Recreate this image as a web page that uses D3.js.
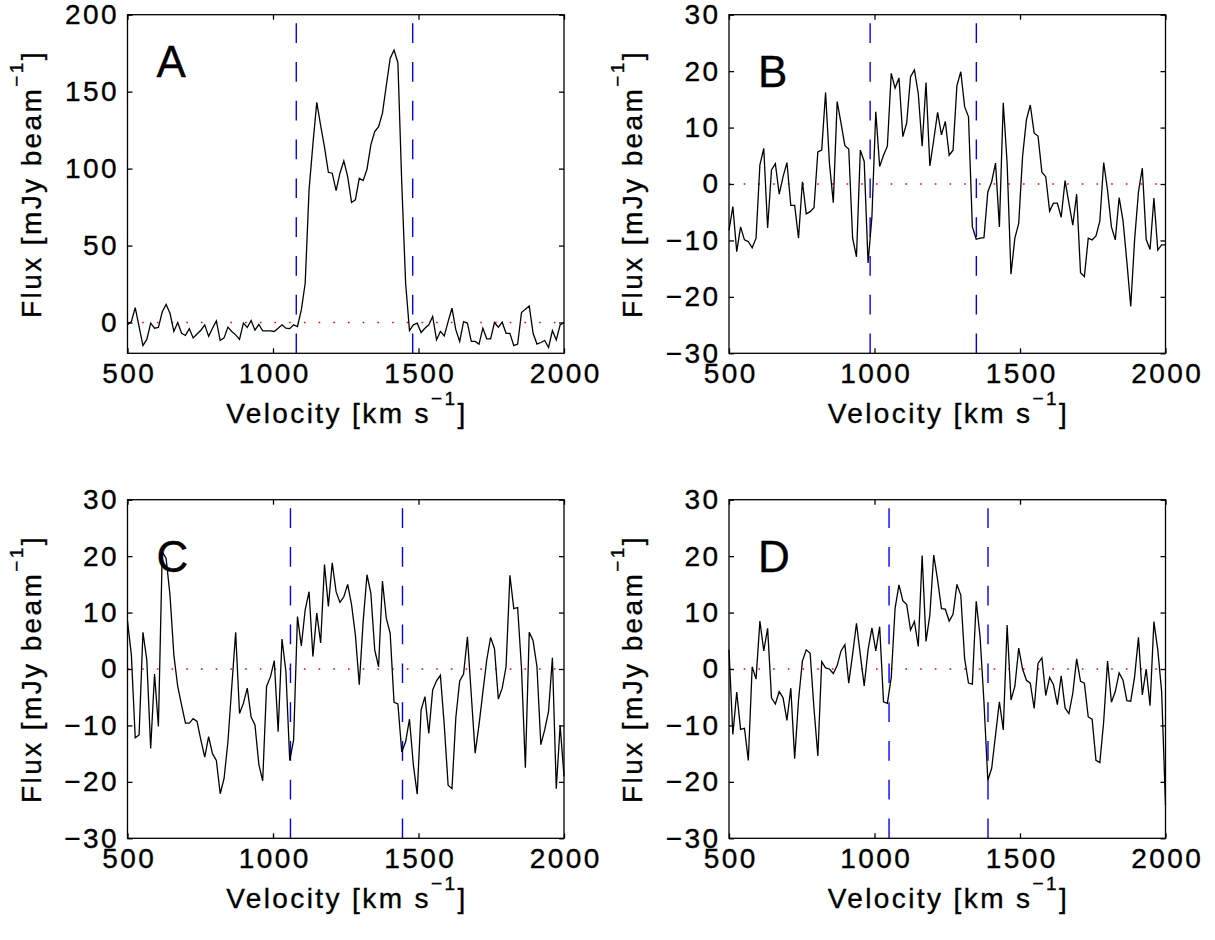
<!DOCTYPE html>
<html>
<head>
<meta charset="utf-8">
<script src="https://cdn.jsdelivr.net/npm/d3@7"></script>
<style>
  body { margin: 0; background: #fff; }
  svg text { font-family: Arial, "Liberation Sans", Helvetica, sans-serif; fill: #000; stroke: #000; stroke-width: 0.35px; }
</style>
</head>
<body>
<svg id="chart" width="1215" height="940"></svg>
<script>
// channel grid (km/s)
const V_START = 500, V_END = 2000, N_CHAN = 114;
const velocity = d3.range(N_CHAN).map(i => V_START + i * (V_END - V_START) / (N_CHAN - 1));

const velTicks = [500, 1000, 1500, 2000];
const fluxTicksA = [0, 50, 100, 150, 200];
const fluxTicksBCD = [-30, -20, -10, 0, 10, 20, 30];
const panelNames = ['A', 'B', 'C', 'D'];

// flux in mJy/beam, one value per channel
const fluxA = [-1.5, 0.6, 9.7, -2.6, -15, -11, -0.4, -3.7, -3.2, 7,
  11.7, 6, -5.8, 0, -7, -8.4, -4, -10, -7.5, -5,
  -1.5, -9, -3.7, 1, -11.7, -10, -3, -5.8, -8, -11,
  -0.4, -3.2, 1.3, -5, -1.3, -5.4, -5.4, -5.4, -5.8, -3.7,
  -1.5, -3.7, -4, -1.5, -2.6, 8.2, 25.5, 86, 116, 143,
  128, 114, 97.6, 97, 85.7, 97, 105, 94.8, 78, 79.7,
  93.7, 92.2, 99.6, 115.4, 124, 127.3, 136, 154, 171.6, 177,
  168.8, 90.5, 25.5, -5.2, -1.5, -0.4, -6.5, -3.7, -1.5, 3.9,
  -11.3, -5.8, -8.7, 0.6, 9.3, -4.8, -12.3, 0.6, -0.4, -12.3,
  -12.3, -14, -3.7, -10.6, -10.6, 0, -3, 0.2, -7, -7,
  -15, -14, 6.5, 8.7, 10.8, -7, -14, -13, -11.7, -16.2,
  -5.2, -11.3, -1.5, 0];

const fluxB = [-8.2, -4, -12, -7.6, -9.9, -10.2, -11.3, -9.6, 3.4, 6.3,
  -7.8, 2.5, 3.6, -1.8, 1.3, 3.8, -3.8, -3.8, -9.6, 0.4,
  -5.3, -4.9, -4.2, 5.7, 6, 16.2, 3.7, -3.3, 14.6, 10.8,
  6.8, 6.2, -9.6, -12.9, 6, 4, -14, -5.8, 12.8, 3.1,
  5.1, 6.7, 19.6, 17, 18.8, 8.4, 10.8, 19, 20.2, 16,
  6.7, 18, 3.2, 7.8, 12.7, 8.7, 11.1, 5.1, 6, 17.4,
  19.9, 13.7, 11.9, -7.6, -9.8, -9.6, -9.5, -1.4, 0.4, 3.7,
  -7.6, 14.4, 3.7, -16, -9.6, -7, 4.9, 11.4, 14, 9,
  8.5, 2.1, 1.3, -4.8, -3.4, -3.4, -5.9, 0.6, -3.4, -7.3,
  -1.8, -15.7, -16.4, -9.6, -9.9, -9.2, -6.6, 3.8, -1.1, -7.6,
  -9.9, -2.4, -6.5, -13.8, -21.7, -9.9, -1.4, 2.8, -9.8, -11.6,
  -2.5, -11.7, -10.8, -10.8];

const fluxC = [8.5, 2.5, -12.2, -11.7, 6.5, 1.6, -14.1, -0.9, -10.2, 20.8,
  19.6, 13.1, 2.5, -3.1, -6.4, -9.6, -9.6, -8.8, -9.3, -12.6,
  -15.6, -12, -15, -16.2, -22.1, -19.4, -12.9, -3.1, 6.5, -7.9,
  -6.1, -3.4, -8.5, -9.9, -16.9, -19.8, -3.1, -1.4, 1.5, -11.1,
  5.3, -0.4, -16.2, -12.6, 9.3, 4.1, 10.5, 13.7, 2.2, 9.9,
  4.6, 18.5, 11.1, 18.8, 13.7, 11.8, 12.8, 15, 11.4, 6,
  -2.8, 8.4, 16.7, 13.4, 3.4, 0.4, 15.6, 9, 6.3, -5.9,
  -6.2, -14.7, -12.9, -8.9, -17, -22.2, -7.3, -4.9, -11.4, -3.7,
  -2.1, -1.1, -9.9, -20.6, -21.2, -8.6, -2.1, -0.9, 5.7, -4.6,
  -14.9, -9.9, -4.1, 1.6, 5.6, 3.6, -5.3, -3.4, 0.4, 16.6,
  10.7, 10.9, 0.1, -17.5, 6.5, 5, 0.4, -13.4, -10.8, -7.5,
  2, -21.2, -10, -19];

const fluxD = [3.4, -11.6, -4.1, -10.7, -10.5, -16.2, 0.4, -1.8, 8.5, 3.2,
  7.2, -5.1, -6.2, -4, -5.1, -9.1, -3.4, -15.9, -5.5, 1.4,
  3.4, 2.8, -7, -15.4, 1.3, 0.2, 0, -0.8, 0.6, 3.2,
  4.3, -2.5, 2.6, 8.1, 2.5, -3, 3.4, 7.3, 3.2, 7.5,
  -5.8, -6.1, -1.5, 10.8, 14.9, 12.1, 11.4, 6.9, 8.4, 4,
  20.1, 4.9, 9.6, 20.2, 15.8, 10.7, 10.6, 8.5, 9.7, 15,
  13.1, 1.8, -2.5, -2.7, 12, 5.7, -5.8, -19.7, -17.6, -11.7,
  -5.8, -10.8, 7.8, -5.5, -3.1, 3.7, 0, -2, -2.5, -7,
  1, 2, -4.7, -1.5, -2.8, -6.3, -1.2, -6.9, -7.9, -4.3,
  1.8, -2.2, -2.5, -8.5, -8.9, -16.2, -16.6, -9.3, 1.4, -5.9,
  -4, -0.7, -2, -5.6, -5.7, -1.4, 5.6, -4.6, 0, -6.5,
  8.4, 3.4, -4, -24.1];

// velocity window markers (km/s)
const windowA = [1080, 1480];
const windowB = [985, 1350];
const windowC = [1060, 1445];
const windowD = [1050, 1390];

// label position in data coords
const letterVel = 600;
const letterFluxA = 170;
const letterFluxBCD = 20;

const panels = [
  {name: panelNames[0], flux: fluxA, win: windowA, yDomain: [-20, 200], yTicks: fluxTicksA, letterY: letterFluxA, left: 127.5, top: 14.7},
  {name: panelNames[1], flux: fluxB, win: windowB, yDomain: [-30, 30], yTicks: fluxTicksBCD, letterY: letterFluxBCD, left: 729, top: 14.7},
  {name: panelNames[2], flux: fluxC, win: windowC, yDomain: [-30, 30], yTicks: fluxTicksBCD, letterY: letterFluxBCD, left: 127.5, top: 499.7},
  {name: panelNames[3], flux: fluxD, win: windowD, yDomain: [-30, 30], yTicks: fluxTicksBCD, letterY: letterFluxBCD, left: 729, top: 499.7}
];

const W = 436.5, H = 338.6;
const FS = 28, LS = 2.4, TICK = 5;
const SUP = 19, RAISE = 18;

const svg = d3.select('#chart');
svg.append('rect').attr('width', 1215).attr('height', 940).attr('fill', '#fff');

function styleTicks(sel, dx) {
  sel.select('.domain').remove();
  sel.selectAll('line').attr('stroke', '#000').attr('stroke-width', 1.3);
  sel.selectAll('text')
    .attr('fill', '#000')
    .style('font-size', FS + 'px')
    .style('letter-spacing', LS + 'px')
    .attr('dx', dx);
}

function drawPanel(p) {
  const g = svg.append('g').attr('transform', `translate(${p.left},${p.top})`);
  const x = d3.scaleLinear().domain([V_START, V_END]).range([0, W]);
  const y = d3.scaleLinear().domain(p.yDomain).range([H, 0]);

  // zero level
  g.append('line')
    .attr('x1', x(V_START)).attr('x2', x(V_END))
    .attr('y1', y(0)).attr('y2', y(0))
    .attr('stroke', '#ff0000').attr('stroke-width', 1.6)
    .attr('stroke-dasharray', '1.6,13.1');

  // window markers, drawn from bottom to top
  p.win.forEach(v => {
    g.append('line')
      .attr('x1', x(v)).attr('x2', x(v))
      .attr('y1', y(p.yDomain[0])).attr('y2', y(p.yDomain[1]))
      .attr('stroke', '#0000ff').attr('stroke-width', 1.4)
      .attr('stroke-dasharray', '19.7,19.1');
  });

  // spectrum
  const line = d3.line().x(d => x(d[0])).y(d => y(d[1]));
  g.append('path')
    .datum(d3.zip(velocity, p.flux))
    .attr('d', line)
    .attr('fill', 'none')
    .attr('stroke', '#000')
    .attr('stroke-width', 1.3);

  // axes
  g.append('g').attr('transform', `translate(0,${H})`)
    .call(d3.axisBottom(x).tickValues(velTicks).tickFormat(d3.format('d'))
      .tickSizeInner(-TICK).tickSizeOuter(0).tickPadding(10))
    .call(s => styleTicks(s, LS / 2));
  g.append('g')
    .call(d3.axisTop(x).tickValues(velTicks).tickFormat('')
      .tickSizeInner(-TICK).tickSizeOuter(0))
    .call(s => styleTicks(s, 0));
  g.append('g')
    .call(d3.axisLeft(y).tickValues(p.yTicks).tickFormat(d3.format('d'))
      .tickSizeInner(-TICK).tickSizeOuter(0).tickPadding(11))
    .call(s => styleTicks(s, LS));
  g.append('g').attr('transform', `translate(${W},0)`)
    .call(d3.axisRight(y).tickValues(p.yTicks).tickFormat('')
      .tickSizeInner(-TICK).tickSizeOuter(0))
    .call(s => styleTicks(s, 0));

  // frame
  g.append('rect').attr('width', W).attr('height', H)
    .attr('fill', 'none').attr('stroke', '#000').attr('stroke-width', 1.3);

  // panel letter
  g.append('text')
    .attr('x', x(letterVel)).attr('y', y(p.letterY))
    .attr('dy', '0.36em')
    .style('font-size', '44px')
    .text(p.name);

  // axis titles
  const xl = g.append('text')
    .attr('x', W / 2 + LS / 2).attr('y', H + 70)
    .attr('text-anchor', 'middle')
    .style('font-size', FS + 'px').style('letter-spacing', LS + 'px');
  xl.append('tspan').text('Velocity [km s');
  xl.append('tspan').attr('dy', -RAISE).style('font-size', SUP + 'px').text('\u22121');
  xl.append('tspan').attr('dy', RAISE).text(']');

  const yl = g.append('text')
    .attr('transform', `translate(-87,${H / 2}) rotate(-90)`)
    .attr('text-anchor', 'middle')
    .style('font-size', FS + 'px').style('letter-spacing', LS + 'px');
  yl.append('tspan').text('Flux [mJy beam');
  yl.append('tspan').attr('dy', -RAISE).style('font-size', SUP + 'px').text('\u22121');
  yl.append('tspan').attr('dy', RAISE).text(']');
}

panels.forEach(drawPanel);
</script>
</body>
</html>
